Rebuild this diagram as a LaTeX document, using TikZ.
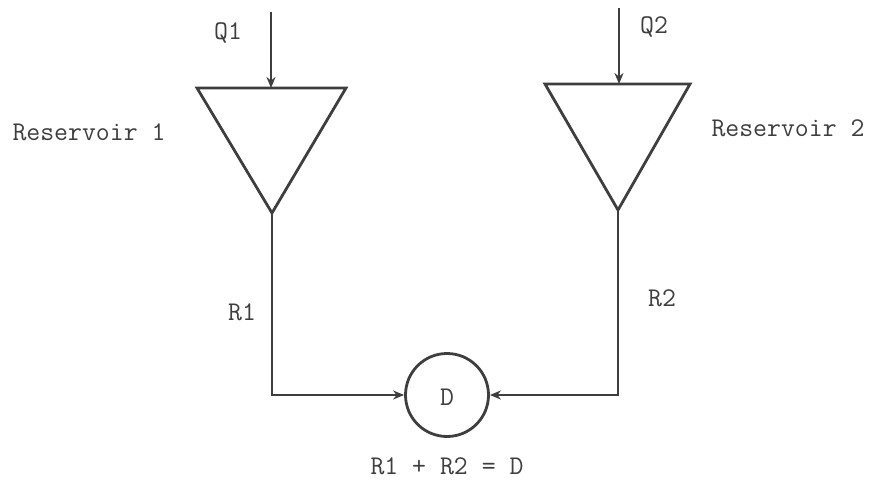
\documentclass[tikz,border=0pt]{standalone}
\usetikzlibrary{arrows.meta}
\definecolor{ink}{RGB}{62,62,62}
\begin{document}
\begin{tikzpicture}[x=1pt,y=-1pt,
  line/.style={draw=ink,line width=2.8pt},
  flow/.style={line,-{Stealth[length=11pt,width=9pt]}},
  lbl/.style={text=ink,font=\ttfamily\fontsize{27}{30}\selectfont,inner sep=0pt},
  tank/.style={line,line join=miter}]
\useasboundingbox (0,0) rectangle (887,482);
% reservoir 1
\coordinate (r1l) at (197,88);
\coordinate (r1r) at (346,88);
\coordinate (r1top) at (271,88);
\coordinate (r1apex) at (272,213);
\coordinate (q1start) at (271,12);
\draw[tank] (r1l) -- (r1r) -- (r1apex) -- cycle;
% reservoir 2
\coordinate (r2l) at (545,84);
\coordinate (r2r) at (690,84);
\coordinate (r2top) at (619,84);
\coordinate (r2apex) at (618,210);
\coordinate (q2start) at (619,8);
\draw[tank] (r2l) -- (r2r) -- (r2apex) -- cycle;
% demand
\node[circle,line,minimum size=83pt,inner sep=0pt] (D) at (447,395) {};
\node[lbl] (Dl) at (447,397) {D};
% inflows
\draw[flow] (q1start) -- (r1top);
\draw[flow] (q2start) -- (r2top);
% releases
\draw[flow] (r1apex) |- (D.west);
\draw[flow] (r2apex) |- (D.east);
% labels
\node[lbl] (Q1) at (228,33) {Q1};
\node[lbl] (Q2) at (654,27) {Q2};
\node[lbl] (R1) at (242,312) {R1};
\node[lbl] (R2) at (662,298) {R2};
\node[lbl] (res1) at (89,132) {Reservoir 1};
\node[lbl] (res2) at (788,128) {Reservoir 2};
\node[lbl] (eq) at (447,466) {R1 + R2 = D};
\end{tikzpicture}
\end{document}
